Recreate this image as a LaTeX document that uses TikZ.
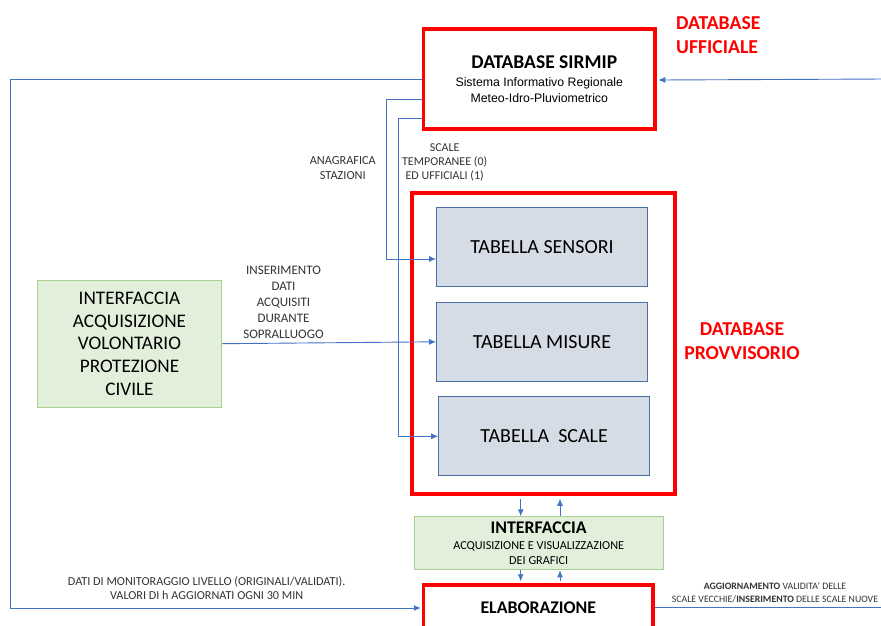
\documentclass[tikz,border=0pt]{standalone}
\usepackage{fontspec}
\setmainfont{Carlito}
\newfontfamily\arialfont{Liberation Sans}
\usetikzlibrary{arrows.meta}
\usetikzlibrary{positioning}

\definecolor{dbred}{HTML}{FF0000}
\definecolor{flowblue}{HTML}{4472C4}
\definecolor{tabfill}{HTML}{D6DCE5}
\definecolor{tabdraw}{HTML}{4A6EA8}
\definecolor{greenfill}{HTML}{E2EFDA}
\definecolor{greendraw}{HTML}{A9D18E}
\definecolor{labelgray}{HTML}{333333}

\newcommand{\fsz}[2]{\fontsize{#1}{#2}\selectfont}

\begin{document}
\begin{tikzpicture}[x=1pt,y=-1pt,
				dbbox/.style={rectangle,draw=dbred,line width=3.5pt,fill=white,inner sep=0pt,align=center},
				tabbox/.style={rectangle,draw=tabdraw,line width=1pt,fill=tabfill,minimum width=211pt,minimum height=79pt,font=\fsz{20}{24}},
				grbox/.style={rectangle,draw=greendraw,line width=1pt,fill=greenfill,inner sep=0pt,align=center},
				redlabel/.style={text=dbred,font=\bfseries\fsz{19.7}{23.5},inner sep=0pt},
				flowlabel/.style={text=labelgray,align=center,inner sep=0pt},
				flow/.style={draw=flowblue,line width=0.9pt,-{Latex[length=7pt,width=6pt]}},
				flowline/.style={draw=flowblue,line width=0.9pt}
				]
				\useasboundingbox (0,0) rectangle (881,625);
				\clip (0,0) rectangle (881,625);
				\coordinate (lft) at (10.5,0);
				\coordinate (rgt) at (885,0);

				% databases
				\node (sirmip) [dbbox,minimum width=231.5pt,minimum height=100pt,font=\arialfont\fsz{12.3}{15.5}] at (539.3,79)
					{\hspace*{10pt}{\normalfont\bfseries\fsz{19.5}{15}DATABASE SIRMIP}\\[2.5pt]
					Sistema Informativo Regionale\\Meteo-Idro-Pluviometrico};
				\node (uff) [redlabel,anchor=base west,align=left] at (676,53) {DATABASE\\UFFICIALE};
				\node (provv) [dbbox,minimum width=263pt,minimum height=301pt] at (543.4,343.5) {};
				\node (provvlbl) [redlabel,align=center] at (742,341) {DATABASE\\PROVVISORIO};

				% tabelle
				\node (sensori) [tabbox] at (542,247) {TABELLA SENSORI};
				\node (misure) [tabbox] at (542,341.8) {TABELLA MISURE};
				\node (scale) [tabbox,minimum height=78.7pt] at (544.2,436.3) {TABELLA\ \ SCALE};

				% interfacce
				\node (volontario) [grbox,minimum width=184pt,minimum height=127pt,font=\fsz{19.2}{22.7}] at (129.5,343.7)
					{INTERFACCIA\\ACQUISIZIONE\\VOLONTARIO\\PROTEZIONE\\CIVILE};
				\node (interf) [grbox,minimum width=249pt,minimum height=53pt,font=\fsz{12.2}{15}] at (538.7,543.3)
					{\textbf{\fsz{17.8}{15}INTERFACCIA}\\[1.5pt]ACQUISIZIONE E VISUALIZZAZIONE\\DEI GRAFICI};
				\node (elab) [dbbox,minimum width=229.5pt,minimum height=46pt,font=\bfseries\fsz{17.8}{20}] at (538.3,608) {ELABORAZIONE};

				% collegamenti
				\draw[flow] (sirmip.west) -| (lft |- elab.west) -- ([xshift=-1pt]elab.west);
				\draw[flow] ([yshift=-20pt]sirmip.west) -| ([xshift=-49.5pt,yshift=-12pt]sensori.west) -- ([yshift=-12pt]sensori.west);
				\draw[flow] ([yshift=-39pt]sirmip.west) -| ([xshift=-40pt]scale.west) -- (scale.west);
				\draw[flow] (volontario.east) -- (misure.west);
				\draw[flow] (sirmip.east -| rgt) -- ([xshift=1.5pt,yshift=-1pt]sirmip.east);
				\draw[flowline] ([yshift=1pt]elab.east) -- ([yshift=1pt]elab.east -| rgt);
				\draw[flow,shorten <=3pt] ([xshift=-18pt]interf.north |- provv.south) -- ([xshift=-18pt]interf.north);
				\draw[flow,shorten >=3pt] ([xshift=21.3pt]interf.north) -- ([xshift=21.3pt]interf.north |- provv.south);
				\draw[flow,shorten >=2pt] ([xshift=-18pt]interf.south) -- ([xshift=-18pt]interf.south |- elab.north);
				\draw[flow] ([xshift=21.3pt,yshift=2pt]interf.south |- elab.north) -- ([xshift=21.3pt]interf.south);

				% etichette
				\node (anag) [flowlabel,font=\fsz{12.3}{14.5}] at (342.8,168) {ANAGRAFICA\\STAZIONI};
				\node (scalelbl) [flowlabel,font=\fsz{12}{14}] at (444.7,162) {SCALE\\TEMPORANEE (0)\\ED UFFICIALI (1)};
				\node (inserimento) [flowlabel,font=\fsz{13}{16}] at (283.5,302.7) {INSERIMENTO\\DATI\\ACQUISITI\\DURANTE\\SOPRALLUOGO};
				\node (monitor) [flowlabel,font=\fsz{12.2}{14}] at (206.7,588) {DATI DI MONITORAGGIO LIVELLO (ORIGINALI/VALIDATI).\\VALORI DI h AGGIORNATI OGNI 30 MIN};
				\node (aggiorn) [flowlabel,font=\fsz{9.8}{13.3}] at (775,592.7) {\textbf{AGGIORNAMENTO} VALIDITA' DELLE\\SCALE VECCHIE/\textbf{INSERIMENTO} DELLE SCALE NUOVE};
\end{tikzpicture}
\end{document}
